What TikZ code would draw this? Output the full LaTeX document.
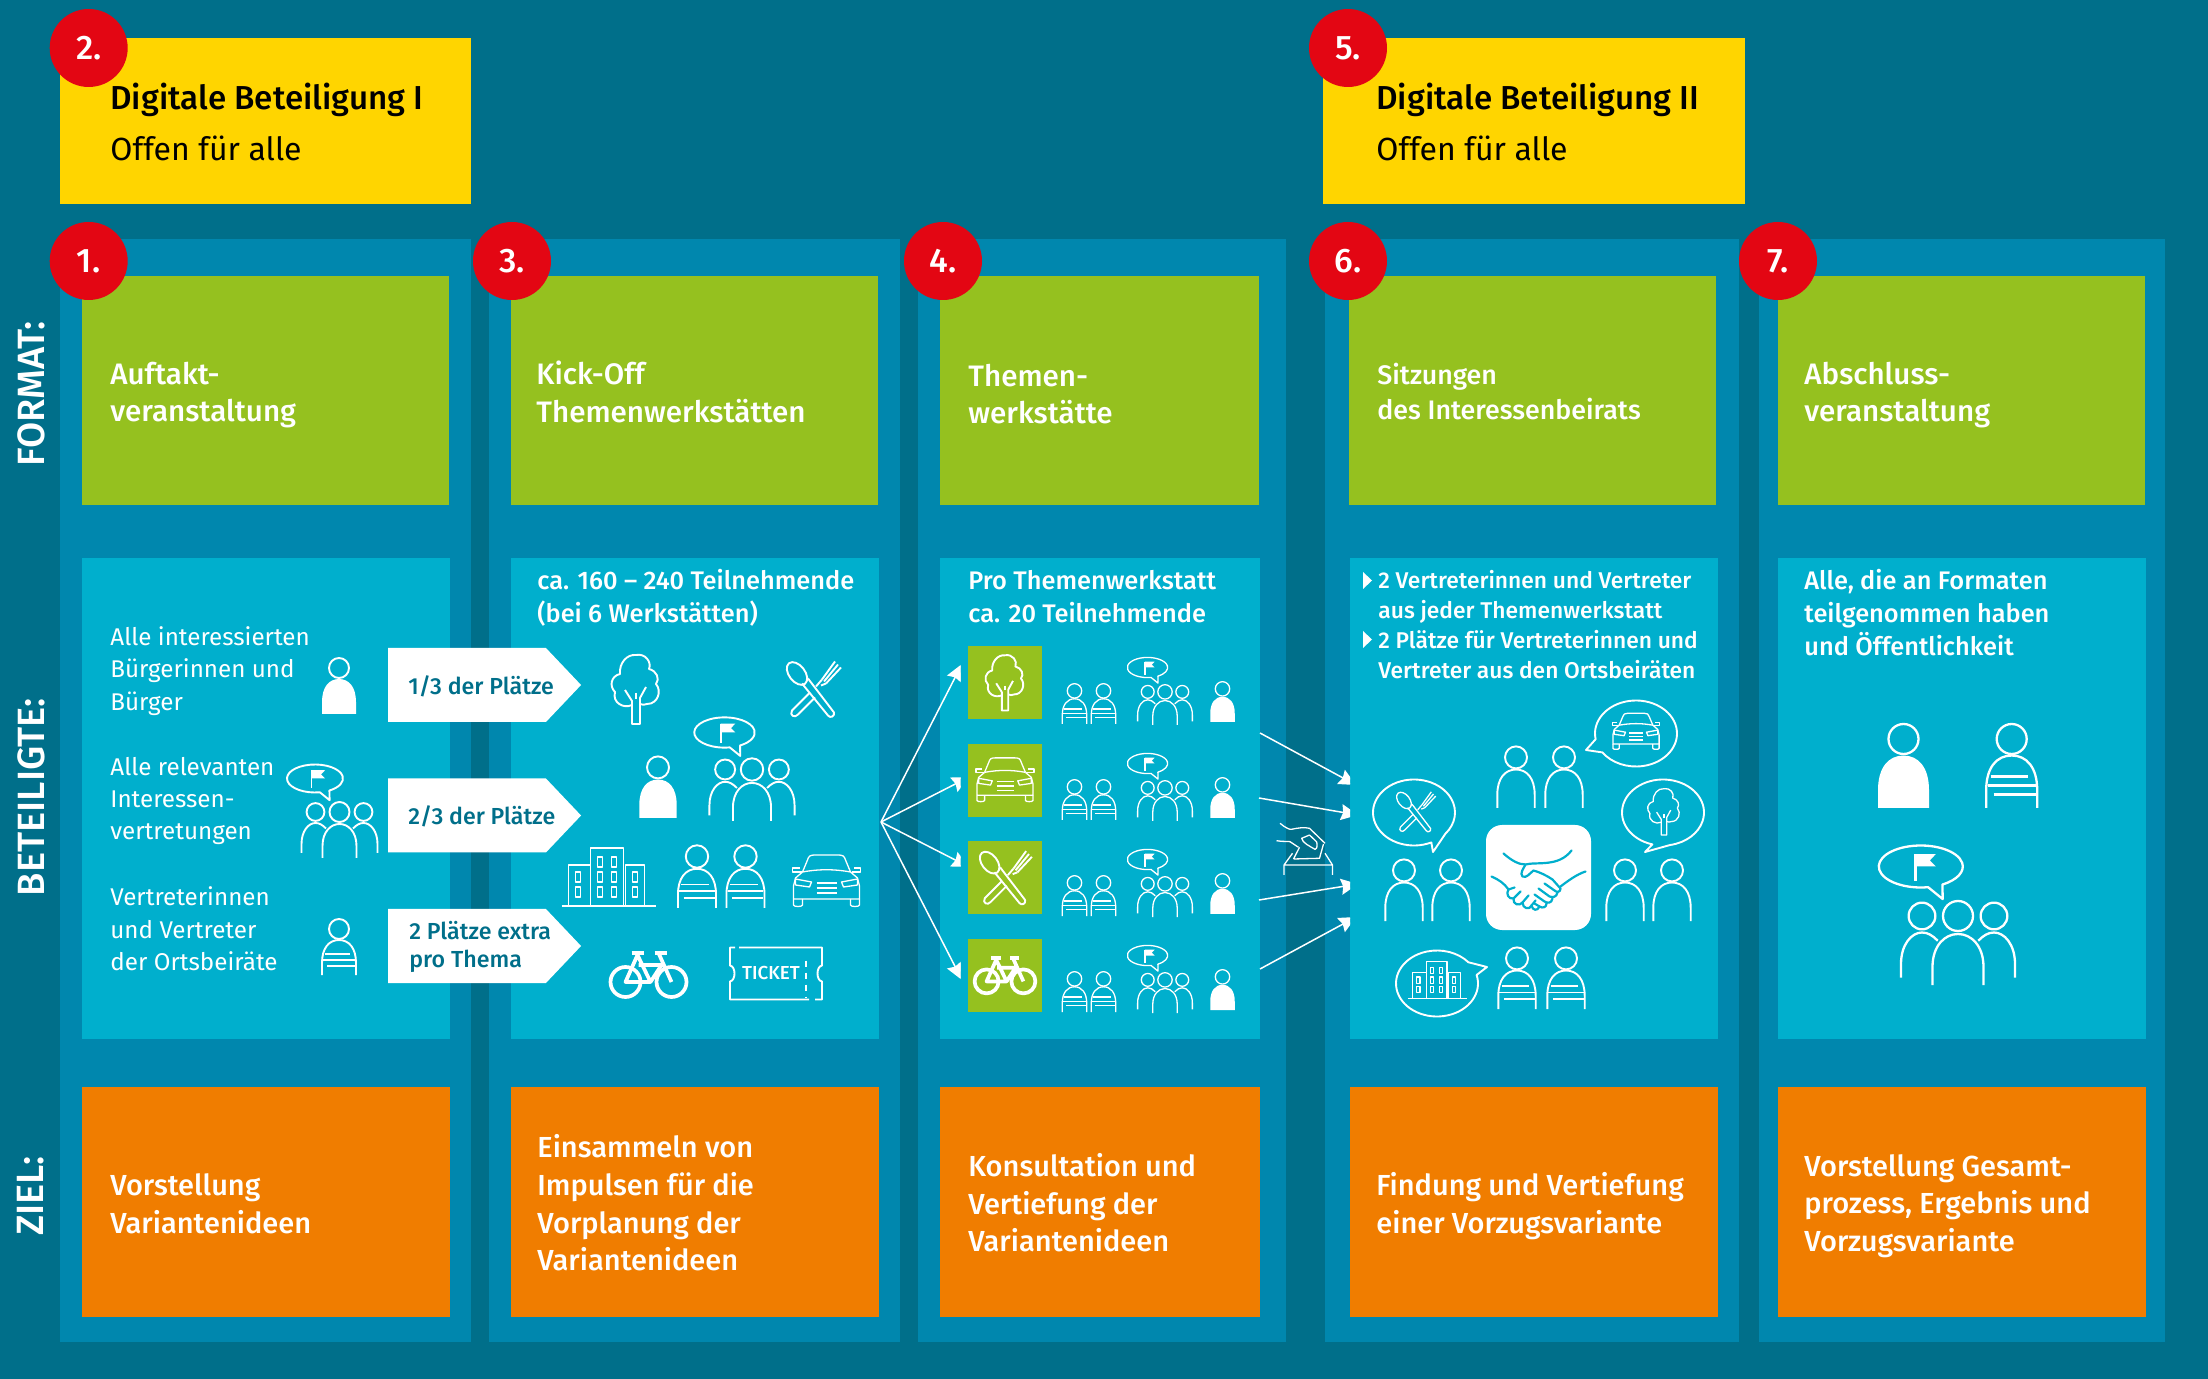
\documentclass[tikz,border=0pt]{standalone}
\usepackage{fontspec}
\setmainfont{Fira Sans}
\newfontfamily\medfont{Fira Sans Medium}
\usetikzlibrary{arrows.meta,calc,positioning,shapes.symbols}

\definecolor{bgteal}{HTML}{006F8A}
\definecolor{panelblue}{HTML}{0087AE}
\definecolor{cyanbox}{HTML}{00AFCD}
\definecolor{fmtgreen}{HTML}{95C11F}
\definecolor{goalorange}{HTML}{F07D00}
\definecolor{digiyellow}{HTML}{FFD500}
\definecolor{stepred}{HTML}{E30613}

\begin{document}
\begin{tikzpicture}[
    x=0.5pt,
    y=-0.5pt,
    panel/.style={fill=panelblue, inner sep=0pt, minimum height=551.5pt},
    digibox/.style={fill=digiyellow, inner sep=0pt, minimum height=83pt},
    fmtbox/.style={fill=fmtgreen, inner sep=0pt, minimum width=183.5pt, minimum height=114.5pt},
    whobox/.style={fill=cyanbox, inner sep=0pt, minimum width=184pt, minimum height=240pt},
    goalbox/.style={fill=goalorange, inner sep=0pt, minimum width=184pt, minimum height=115pt},
    tilebox/.style={fill=fmtgreen, inner sep=0pt, minimum width=37pt, minimum height=36.5pt},
    stepdot/.style={circle, fill=stepred, text=white, inner sep=0pt, minimum size=39pt, font=\medfont\fontsize{17}{20}\selectfont},
    sidelbl/.style={rotate=90, text=white, inner sep=0pt, font=\medfont\fontsize{19}{22}\selectfont},
    titlelbl/.style={anchor=west, inner sep=0pt, align=left, text=black},
    fmtlbl/.style={anchor=west, inner sep=0pt, align=left, text=white, font=\medfont\fontsize{14.8}{18.8}\selectfont},
    goallbl/.style={anchor=west, inner sep=0pt, align=left, text=white, font=\medfont\fontsize{14.5}{18.8}\selectfont},
    wholbl/.style={anchor=west, inner sep=0pt, align=left, text=white, font=\fontsize{12.1}{16.2}\selectfont},
    whobold/.style={anchor=west, inner sep=0pt, align=left, text=white, font=\medfont\fontsize{12.7}{16.5}\selectfont},
    seatbox/.style={signal, signal to=east, signal pointer angle=93, fill=white, inner sep=0pt, minimum width=96.5pt, minimum height=37pt},
    seatlbl/.style={anchor=west, inner sep=0pt, align=left, text=bgteal, font=\medfont\fontsize{11.6}{14}\selectfont},
    flow/.style={-{Stealth[length=8.5pt,width=8pt,inset=1pt]}, white, line width=0.75pt},
    icon/.style={white, line width=0.95pt, line join=round},
    iconsm/.style={white, line width=0.65pt, line join=round},
    iconbig/.style={white, line width=1.15pt, line join=round},
    personbody/.pic={
        \draw (0,-46) circle (10);
        \draw (-17,0) -- (-17,-12) .. controls (-17,-27) and (-10,-35) .. (0,-35) .. controls (10,-35) and (17,-27) .. (17,-12) -- (17,0);
    },
    personfill/.pic={
        \draw (0,-46) circle (10);
        \fill (-17,0) -- (-17,-12) .. controls (-17,-27) and (-10,-35) .. (0,-35) .. controls (10,-35) and (17,-27) .. (17,-12) -- (17,0) -- cycle;
    },
    personstripe/.pic={
        \draw (0,-46) circle (10);
        \draw (-17,0) -- (-17,-12) .. controls (-17,-27) and (-10,-35) .. (0,-35) .. controls (10,-35) and (17,-27) .. (17,-12) -- (17,0);
        \draw (-14,-21) -- (11,-21) (-16,-15) -- (16,-15) (-12,-9) -- (16,-9);
    },
    groupthree/.pic={
        \draw (-24,-46) circle (8.9) (0,-46) circle (10) (24,-46) circle (8.9);
        \draw (-17,0) -- (-17,-12) .. controls (-17,-26) and (-9,-34) .. (0,-34) .. controls (9,-34) and (17,-26) .. (17,-12) -- (17,0);
        \draw (-38,-5) -- (-38,-14) .. controls (-38,-27) and (-31,-35) .. (-24,-35) .. controls (-20,-35) and (-17,-33) .. (-13.5,-29.5);
        \draw (38,-5) -- (38,-14) .. controls (38,-27) and (31,-35) .. (24,-35) .. controls (20,-35) and (17,-33) .. (13.5,-29.5);
    },
    flagbubble/.pic={
        \draw (0,0) ++(80:28 and 14) arc[start angle=80, end angle=419, x radius=28, y radius=14] -- (14.6,21.7) -- cycle;
        \draw (-3.5,-8.3) -- (-3.5,10);
        \fill (-3.5,-8.3) -- (10,-8.3) -- (6,-4) -- (10,0) -- (-3.5,0) -- cycle;
    },
    pics/speech/.style n args={4}{code={
        \draw (0,0) ++(#1:41 and 33) arc[start angle=#1, end angle=#2, x radius=41, y radius=33] -- (#3,#4) -- cycle;
    }},
    treeicon/.pic={
        \draw (-4,16) .. controls (-12,20) and (-24,14) .. (-21,3) .. controls (-27,-3) and (-25,-13) .. (-16,-15) .. controls (-17,-26) and (-9,-35) .. (0,-34) .. controls (9,-36) and (16,-27) .. (13,-20) .. controls (21,-18) and (24,-10) .. (20,-5) .. controls (26,2) and (22,15) .. (11,15) .. controls (9,16) and (6,16) .. (4,15);
        \draw (-11,1) -- (-4,12) -- (-4,35) -- (4,35) -- (4,9) -- (10,-2);
        \draw (0,4) -- (0,10);
    },
    cutleryicon/.pic={
        \draw[rotate around={-52:(-16,-16)}] (-16,-16) ellipse (13 and 8);
        \draw (-11,-6) -- (15,26) .. controls (17,29) and (22,27) .. (21,23) -- (-5,-11);
        \draw (-3,3) -- (-21,21) .. controls (-24,26) and (-18,29) .. (-15,25) -- (2,8);
        \draw (3,-3) -- (9,-10) (8,-4) -- (13,-6);
        \draw (9,-10) -- (22,-28) (11,-8) -- (25,-25) (13,-6) -- (28,-22);
    },
    caricon/.pic={
        \draw (-24,-9) -- (-19,-21) .. controls (-18,-25) and (-16,-26) .. (-12,-26) -- (12,-26) .. controls (16,-26) and (18,-25) .. (19,-21) -- (24,-9);
        \draw (-24,-9) .. controls (-8,-12) and (8,-12) .. (24,-9);
        \draw (-24,-9) -- (-31,-3) -- (-33,5) -- (-33,18) -- (33,18) -- (33,5) -- (31,-3) -- (24,-9);
        \draw (-33,18) -- (-33,24) .. controls (-33,26) and (-24,26) .. (-24,24) -- (-24,18);
        \draw (33,18) -- (33,24) .. controls (33,26) and (24,26) .. (24,24) -- (24,18);
        \draw (-25,-9) -- (-34,-9) -- (-34,-13) -- (-27,-13) (25,-9) -- (34,-9) -- (34,-13) -- (27,-13);
        \draw (-31,-2) -- (-15,1) -- (-17,6) -- (-31,4) -- cycle (31,-2) -- (15,1) -- (17,6) -- (31,4) -- cycle;
        \draw (-10,2) -- (10,2) (-10,7) -- (10,7) (-10,12) -- (10,12);
    },
    bikeicon/.pic={
        \draw[line width=1.4\pgflinewidth] (-23,8) circle (15) (23,8) circle (15);
        \draw[line width=1.4\pgflinewidth] (-23,8) -- (-11,-19) -- (2,8) -- cycle (-10,-9) -- (13,-9) -- (2,8) (10,-21) -- (23,8);
        \draw[line width=1.4\pgflinewidth] (-17,-21) -- (-5,-21) (6,-21) -- (18,-21);
    },
    buildingicon/.pic={
        \draw (-47,29) -- (47,29);
        \draw (-18,29) -- (-18,-29) -- (15,-29) -- (15,29);
        \draw (-18,-12) -- (-40,-12) -- (-40,29) (17,29) -- (17,-12) -- (36,-12) -- (36,29);
        \draw (-11,-20) rectangle ++(5,10) (3,-20) rectangle ++(5,10) (-11,-5) rectangle ++(5,10) (3,-5) rectangle ++(5,10) (-11,10) rectangle ++(5,10) (3,10) rectangle ++(5,10);
        \draw (-33,-5) rectangle ++(5,10) (-33,10) rectangle ++(5,10) (24,-5) rectangle ++(5,10) (24,10) rectangle ++(5,10);
    },
    ticketicon/.pic={
        \draw (-37,-26) -- (46,-26) -- (46,-8) .. controls (40,-7) and (40,7) .. (46,8) -- (46,26) -- (39,26) (33,26) -- (-46,26) -- (-46,8) .. controls (-40,7) and (-40,-7) .. (-46,-8) -- (-46,-26) -- (-41,-26);
        \draw[dashed] (30,-13) -- (30,24);
        \node[inner sep=0pt, font=\medfont\fontsize{9.4}{10}\selectfont] (ticketword) at (-5,0) {TICKET};
    },
    handshake/.pic={
        \draw[cyanbox, line width=1.1pt, line join=round, line cap=round] (-35,-24) .. controls (-27,-17) and (-20,-13) .. (-13,-13) .. controls (-2,-16) and (20,-10) .. (33,-27);
        \draw[cyanbox, line width=1.1pt, line join=round, line cap=round] (-47,-1) .. controls (-40,2) and (-34,6) .. (-30,12) (47,-6) .. controls (38,-3) and (30,3) .. (22,9);
        \draw[cyanbox, line width=1.1pt, line join=round, line cap=round] (-13,-13) .. controls (-15,-9) and (-19,-4) .. (-16,-1) .. controls (-12,1) and (-9,-4) .. (-5,-7) .. controls (2,-5) and (8,-2) .. (14,2) -- (22,11) .. controls (22,15) and (18,15) .. (16,13) -- (6,6);
        \draw[cyanbox, line width=1.1pt, line join=round, line cap=round] (19,15) .. controls (18,20) and (14,20) .. (11,19) -- (0,11) (14,21) .. controls (13,26) and (9,26) .. (6,24) -- (-4,17) (8,26) .. controls (8,30) and (4,31) .. (1,29) -- (-4,26);
        \draw[cyanbox, line width=1.1pt, line join=round, line cap=round] (-30,12) .. controls (-33,16) and (-30,22) .. (-25,21) .. controls (-26,27) and (-19,29) .. (-16,25) .. controls (-16,31) and (-9,33) .. (-7,28) .. controls (-6,33) and (-1,34) .. (1,29);
        \draw[cyanbox, line width=1.1pt, line join=round, line cap=round] (-25,21) -- (-18,14) (-16,25) -- (-10,18) (-7,28) -- (-3,23) (-30,12) -- (-24,10);
    },
    ballot/.pic={
        \draw (-21.5,26) -- (-21.5,16) -- (-13,4.3) (19.5,4.3) -- (27,16) -- (27,26) (-21.5,16) -- (27,16);
        \draw (-12,10) -- (-6,-1.7) (18,-5) -- (14,9.3) -- (-12,10);
        \draw (-25.5,-25.7) .. controls (-20,-21) and (-15,-19) .. (-14,-19.7) .. controls (-8,-21) and (-1,-22) .. (4,-20.7) -- (19.5,-5.7);
        \draw (-29,-8.3) .. controls (-22,-7) and (-18,-8) .. (-15.5,-7.3) -- (-7,-1.7);
        \draw (4,-14) -- (-3.8,-10.7) .. controls (-3,-6) and (4,-3) .. (9.5,0.3) .. controls (12,0) and (12,-5) .. (11,-7.3) -- (4,-14);
    },
    rowpeople/.pic={
        \pic[scale=0.72] at (106.5,78) {personstripe};
        \pic[scale=0.72] at (135.5,78) {personstripe};
        \pic[scale=0.72] at (197,79) {groupthree};
        \pic[scale=0.72] at (179.5,21.5) {flagbubble};
        \pic[scale=0.72] at (254.5,76) {personfill};
    }
]
\fill[bgteal] (0,0) rectangle (2208,1379);

% column panels
\node[digibox, minimum width=205.5pt] (digione) at (265.5,121) {};
\node[digibox, minimum width=211pt] (digitwo) at (1534,121) {};
\node[panel, minimum width=205.5pt] (panelone) at (265.5,790.5) {};
\node[panel, minimum width=205.5pt] (paneltwo) at (694.5,790.5) {};
\node[panel, minimum width=184pt] (panelthree) at (1102,790.5) {};
\node[panel, minimum width=207pt] (panelfour) at (1532,790.5) {};
\node[panel, minimum width=203pt] (panelfive) at (1962,790.5) {};

% format row
\node[fmtbox] (fmtone) at (265.5,390.5) {};
\node[fmtbox] (fmttwo) at (694.5,390.5) {};
\node[fmtbox, minimum width=159.5pt] (fmtthree) at (1099.5,390.5) {};
\node[fmtbox] (fmtfour) at (1532.5,390.5) {};
\node[fmtbox] (fmtfive) at (1961.5,390.5) {};

% participants row
\node[whobox] (whoone) at (266,798.5) {};
\node[whobox] (whotwo) at (695,798.5) {};
\node[whobox, minimum width=160pt] (whothree) at (1100,798.5) {};
\node[whobox] (whofour) at (1533.5,798.5) {};
\node[whobox] (whofive) at (1962,798.5) {};

% goal row
\node[goalbox] (goalone) at (266,1202) {};
\node[goalbox] (goaltwo) at (695,1202) {};
\node[goalbox, minimum width=160pt] (goalthree) at (1100,1202) {};
\node[goalbox] (goalfour) at (1533.5,1202) {};
\node[goalbox] (goalfive) at (1962,1202) {};

\node[sidelbl] (sideformat) at (31,394) {FORMAT:};
\node[sidelbl] (sidewho) at (31,797) {BETEILIGTE:};
\node[sidelbl] (sidegoal) at (31,1196) {ZIEL:};

\node[titlelbl, font=\medfont\fontsize{16.6}{25.5}\selectfont] (digionetxt) at (110,122) {Digitale Beteiligung I\\{\fontspec{Fira Sans}\fontsize{16}{25.5}\selectfont Offen für alle}};
\node[titlelbl, font=\medfont\fontsize{16.6}{25.5}\selectfont] (digitwotxt) at (1376,122) {Digitale Beteiligung II\\{\fontspec{Fira Sans}\fontsize{16}{25.5}\selectfont Offen für alle}};

\node[fmtlbl] (fmtonetxt) at (110,395) {Auftakt-\\veranstaltung};
\node[fmtlbl] (fmttwotxt) at (536,392) {Kick-Off\\Themenwerkstätten};
\node[fmtlbl] (fmtthreetxt) at (968,394) {Themen-\\werkstätte};
\node[fmtlbl, font=\medfont\fontsize{13.4}{17.5}\selectfont] (fmtfourtxt) at (1377,392) {Sitzungen\\des Interessenbeirats};
\node[fmtlbl] (fmtfivetxt) at (1804,395) {Abschluss-\\veranstaltung};

\node[goallbl] (goalonetxt) at (110,1204) {Vorstellung\\Variantenideen};
\node[goallbl] (goaltwotxt) at (537,1203) {Einsammeln von\\Impulsen für die\\Vorplanung der\\Variantenideen};
\node[goallbl] (goalthreetxt) at (968,1203) {Konsultation und\\Vertiefung der\\Variantenideen};
\node[goallbl] (goalfourtxt) at (1376,1206) {Findung und Vertiefung\\einer Vorzugsvariante};
\node[goallbl] (goalfivetxt) at (1804,1206) {Vorstellung Gesamt-\\prozess, Ergebnis und\\Vorzugsvariante};

% text in participants row
\node[wholbl] (whotxta) at (110,671) {Alle interessierten\\Bürgerinnen und\\Bürger};
\node[wholbl] (whotxtb) at (110,801) {Alle relevanten\\Interessen-\\vertretungen};
\node[wholbl] (whotxtc) at (110,929) {Vertreterinnen\\und Vertreter\\der Ortsbeiräte};
\node[whobold] (whotwotxt) at (537,598) {ca. 160 – 240 Teilnehmende\\(bei 6 Werkstätten)};
\node[whobold] (whothreetxt) at (968,597) {Pro Themenwerkstatt\\ca. 20 Teilnehmende};
\node[whobold, font=\medfont\fontsize{11.4}{15}\selectfont] (whofourtxt) at (1378,625) {2 Vertreterinnen und Vertreter\\aus jeder Themenwerkstatt\\2 Plätze für Vertreterinnen und\\Vertreter aus den Ortsbeiräten};
\node[whobold] (whofivetxt) at (1804,613) {Alle, die an Formaten\\teilgenommen haben\\und Öffentlichkeit};
\fill[white] (1363,572) -- (1372,580.5) -- (1363,589) -- cycle;
\fill[white] (1363,631) -- (1372,639.5) -- (1363,648) -- cycle;

% seat arrows
\node[seatbox] (seatone) at (467,685) {};
\node[seatbox] (seattwo) at (467,815.5) {};
\node[seatbox] (seatthree) at (467,946) {};
\node[seatlbl] (seatonetxt) at (408,686) {1/3 der Plätze};
\node[seatlbl] (seattwotxt) at (408,816) {2/3 der Plätze};
\node[seatlbl] (seatthreetxt) at (409,947) {2 Plätze extra\\pro Thema};

% step numbers
\node[stepdot] (stepone) at (88.7,261) {1.};
\node[stepdot] (steptwo) at (88.7,48) {2.};
\node[stepdot] (stepthree) at (512,261) {3.};
\node[stepdot] (stepfour) at (943,261) {4.};
\node[stepdot] (stepfive) at (1348,48) {5.};
\node[stepdot] (stepsix) at (1348,261) {6.};
\node[stepdot] (stepseven) at (1778,261) {7.};

% icons col 1
\pic[icon] at (339,714) {personfill};
\pic[icon] at (315,778.5) {flagbubble};
\pic[icon] at (339.5,858) {groupthree};
\pic[icon] at (339,975) {personstripe};

% icons col 2
\pic[icon] at (636,689) {treeicon};
\pic[icon] at (813,689.5) {cutleryicon};
\pic[icon, scale=1.1] at (658,818) {personfill};
\pic[icon, scale=1.12] at (752,821) {groupthree};
\pic[icon, scale=1.08] at (724.5,732.5) {flagbubble};
\pic[iconsm] at (608.5,877) {buildingicon};
\pic[icon, scale=1.12] at (697,908) {personstripe};
\pic[icon, scale=1.12] at (745.5,908) {personstripe};
\pic[iconsm] at (826.5,881) {caricon};
\pic[icon] at (648.5,974) {bikeicon};
\pic[icon] at (776,973.5) {ticketicon};

% icons col 3
\node[tilebox] (tiletree) at (1005,682.5) {};
\node[tilebox] (tilecar) at (1005,780.5) {};
\node[tilebox] (tilefood) at (1005,878) {};
\node[tilebox] (tilebike) at (1005,975.5) {};
\pic[icon, scale=0.8] at (1005,682.5) {treeicon};
\pic[iconsm, scale=0.85] at (1005,780) {caricon};
\pic[icon, scale=0.96] at (1005,878) {cutleryicon};
\pic[icon, scale=0.8] at (1005,975) {bikeicon};
\pic[iconsm] at (968,646) {rowpeople};
\pic[iconsm] at (968,742) {rowpeople};
\pic[iconsm] at (968,838) {rowpeople};
\pic[iconsm] at (968,934) {rowpeople};

% icons col 4
\pic[iconsm] at (1305.5,849) {ballot};
\node[fill=white, rounded corners=8pt, inner sep=0pt, minimum size=52.5pt] (shakebox) at (1538.5,877.5) {};
\pic at (1538.5,877.5) {handshake};
\pic[icon, scale=1.1] at (1516,808) {personbody};
\pic[icon, scale=1.1] at (1564,808) {personbody};
\pic[icon, scale=1.1] at (1404,921) {personbody};
\pic[icon, scale=1.1] at (1451,921) {personbody};
\pic[icon, scale=1.1] at (1625,921) {personbody};
\pic[icon, scale=1.1] at (1672,921) {personbody};
\pic[icon, scale=1.1] at (1517,1009) {personstripe};
\pic[icon, scale=1.1] at (1566,1009) {personstripe};
\pic[icon] at (1636,733.5) {speech={170}{505}{-50}{16.5}};
\pic[icon] at (1414,812.5) {speech={65}{400}{19}{39.5}};
\pic[icon] at (1663,812.5) {speech={105}{440}{-18}{39.5}};
\pic[icon] at (1437,983.5) {speech={-15}{320}{50}{-16.5}};
\pic[iconsm, scale=0.7] at (1636,731.5) {caricon};
\pic[iconsm, scale=0.72] at (1415.5,812) {cutleryicon};
\pic[iconsm, scale=0.67] at (1664,811.5) {treeicon};
\pic[iconsm, scale=0.63] at (1437.5,980) {buildingicon};

% icons col 5
\pic[iconbig, scale=1.5] at (1903.5,808) {personfill};
\pic[iconbig, scale=1.5] at (2011.7,808) {personstripe};
\pic[iconbig, scale=1.5] at (1958,985) {groupthree};
\pic[iconbig, scale=1.5] at (1920.8,866.5) {flagbubble};

% arrows to and from workshops, cut off at the box edges
\coordinate (hub) at (881,822);
\coordinate (intree) at (962,664);
\coordinate (incar) at (969,777);
\coordinate (infood) at (969,867);
\coordinate (inbike) at (962,980);
\coordinate (outtree) at (1260,733);
\coordinate (outcar) at (1259,798);
\coordinate (outfood) at (1259,900);
\coordinate (outbike) at (1260,969);
\coordinate (boarda) at (1356,785);
\coordinate (boardb) at (1358,815);
\coordinate (boardc) at (1358,884);
\coordinate (boardd) at (1356,917);
\begin{scope}
\clip (870,640) rectangle (960.5,1000);
\draw[flow] (hub) -- (intree);
\draw[flow] (hub) -- (incar);
\draw[flow] (hub) -- (infood);
\draw[flow] (hub) -- (inbike);
\end{scope}
\begin{scope}
\clip (1250,720) rectangle (1350,980);
\draw[flow] (outtree) -- (boarda);
\draw[flow] (outcar) -- (boardb);
\draw[flow] (outfood) -- (boardc);
\draw[flow] (outbike) -- (boardd);
\end{scope}
\end{tikzpicture}
\end{document}
